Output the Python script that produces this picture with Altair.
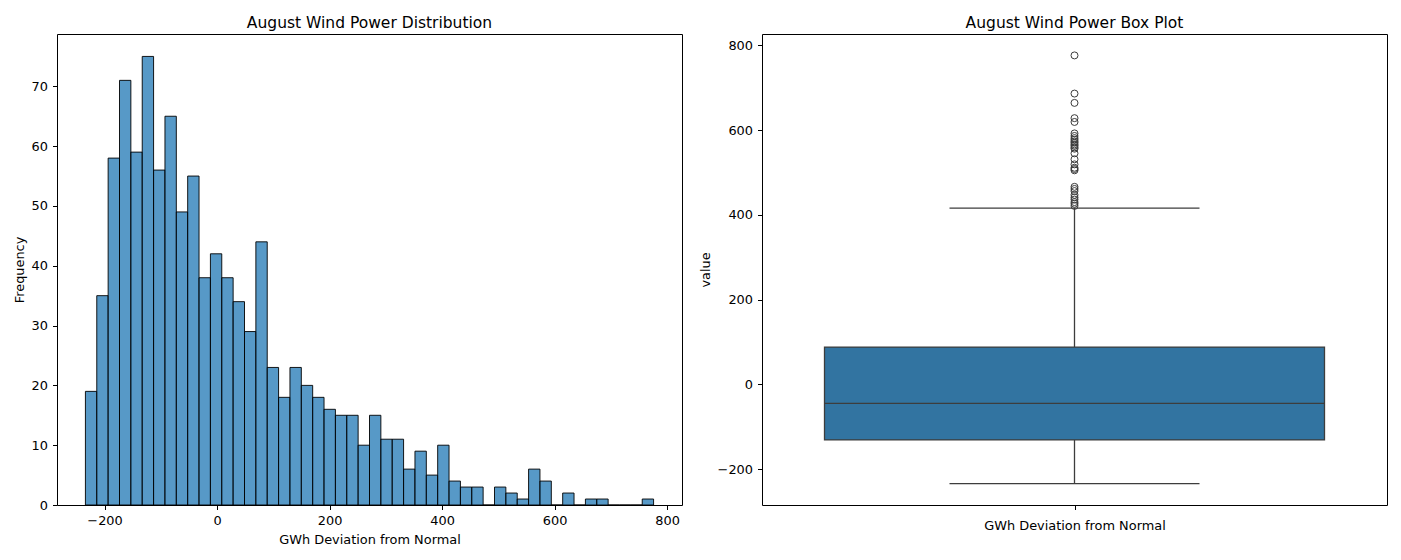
import altair as alt
import numpy as np
import pandas as pd

# August wind power, GWh deviation from normal: 50 equal-width bins
bin_low, bin_high = -234.0, 776.0
counts = [19, 35, 58, 71, 59, 75, 56, 65, 49, 55,
          38, 42, 38, 34, 29, 44, 23, 18, 23, 20,
          18, 16, 15, 15, 10, 15, 11, 11, 6, 9,
          5, 10, 4, 3, 3, 0, 3, 2, 1, 6,
          4, 0, 2, 0, 1, 1, 0, 0, 0, 1]

# Box plot summary of the same values
whisker_low = -234
q1 = -131
median = -45
q3 = 88
whisker_high = 416
outliers = [421, 426, 430, 436, 441, 447, 456, 461, 466,
            505, 508, 511, 519, 531, 545,
            556, 559, 563, 566, 570, 573, 577, 581, 586, 592,
            619, 628, 664, 686, 776]

FONT = "DejaVu Sans"
LINE = "#3d3d3d"
W, H = 625, 471

edges = np.linspace(bin_low, bin_high, len(counts) + 1)
hist_df = pd.DataFrame({"start": edges[:-1], "end": edges[1:], "count": counts})

hist = alt.Chart(hist_df).mark_rect(
    fill="#1f77b4", fillOpacity=0.75, stroke="black", strokeWidth=0.9
).encode(
    x=alt.X("start:Q",
            scale=alt.Scale(domain=[-284.5, 826.5], nice=False, zero=False),
            axis=alt.Axis(values=[-200, 0, 200, 400, 600, 800], format="d",
                          title="GWh Deviation from Normal", titlePadding=6)),
    x2="end:Q",
    y=alt.Y("count:Q",
            scale=alt.Scale(domain=[0, 78.75], nice=False),
            axis=alt.Axis(values=list(range(0, 80, 10)), title="Frequency")),
    y2=alt.Y2Datum(0),
).properties(width=W, height=H, title="August Wind Power Distribution")

summary = pd.DataFrame({"lo": [whisker_low], "q1": [q1], "med": [median],
                        "q3": [q3], "hi": [whisker_high]})
out_df = pd.DataFrame({"value": outliers})

xscale = alt.Scale(domain=[-0.5, 0.5], nice=False, zero=False)
xaxis = alt.Axis(values=[0], labelExpr="'GWh Deviation from Normal'",
                 title=None, labelPadding=10, labelLimit=0)
yscale = alt.Scale(domain=[-284.5, 826.5], nice=False, zero=False)
yaxis = alt.Axis(values=[-200, 0, 200, 400, 600, 800], format="d", title="value")

whisker = alt.Chart(summary).mark_rule(color=LINE, strokeWidth=1.3).encode(
    x=alt.XDatum(0, type="quantitative", scale=xscale, axis=xaxis),
    y=alt.Y("lo:Q", scale=yscale, axis=yaxis),
    y2="hi:Q",
)
box = alt.Chart(summary).mark_rect(fill="#3274a1", stroke=LINE, strokeWidth=1.3).encode(
    x=alt.XDatum(-0.4, type="quantitative"),
    x2=alt.X2Datum(0.4),
    y=alt.Y("q1:Q", title="value"),
    y2="q3:Q",
)
median_line = alt.Chart(summary).mark_rule(color=LINE, strokeWidth=1.3).encode(
    x=alt.XDatum(-0.4, type="quantitative"),
    x2=alt.X2Datum(0.4),
    y=alt.Y("med:Q", title="value"),
)
cap_low = alt.Chart(summary).mark_rule(color=LINE, strokeWidth=1.3).encode(
    x=alt.XDatum(-0.2, type="quantitative"),
    x2=alt.X2Datum(0.2),
    y=alt.Y("lo:Q", title="value"),
)
cap_high = alt.Chart(summary).mark_rule(color=LINE, strokeWidth=1.3).encode(
    x=alt.XDatum(-0.2, type="quantitative"),
    x2=alt.X2Datum(0.2),
    y=alt.Y("hi:Q", title="value"),
)
fliers = alt.Chart(out_df).mark_point(
    shape="circle", filled=False, size=49, stroke=LINE, strokeWidth=1, opacity=1
).encode(
    x=alt.XDatum(0, type="quantitative"),
    y=alt.Y("value:Q", title="value"),
)

boxplot = alt.layer(whisker, box, median_line, cap_low, cap_high, fliers).properties(
    width=W, height=H, title="August Wind Power Box Plot"
)

chart = alt.hconcat(hist, boxplot, spacing=15).properties(
    padding={"left": 12, "top": 15, "right": 5, "bottom": 5}
).configure_axis(
    labelFont=FONT, labelFontSize=12.9, labelColor="black",
    titleFont=FONT, titleFontSize=12.9, titleFontWeight="normal", titleColor="black",
    tickSize=4.5, tickColor="black", tickWidth=1, domain=False, grid=False,
    labelPadding=5, titlePadding=5,
).configure_view(
    stroke="black", strokeWidth=1
).configure_title(
    font=FONT, fontSize=15.5, fontWeight="normal", color="black", offset=3
)

chart.save("out.html", embed_options={"renderer": "svg", "actions": False})
